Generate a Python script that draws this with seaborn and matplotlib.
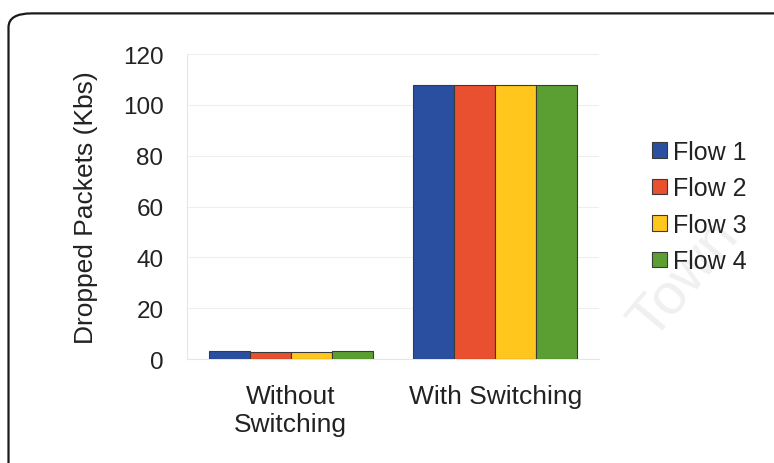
import matplotlib
matplotlib.use("Agg")
import matplotlib.pyplot as plt
from matplotlib.patches import FancyBboxPatch
import pandas as pd
import seaborn as sns

# 데이터
categories = ["Without\nSwitching", "With Switching"]
flows = ["Flow 1", "Flow 2", "Flow 3", "Flow 4"]
flow1 = [3.1, 108.0]
flow2 = [2.8, 108.0]
flow3 = [2.9, 107.8]
flow4 = [3.0, 107.8]
yticks = [0, 20, 40, 60, 80, 100, 120]
colors = ["#2A4FA0", "#E8502F", "#FFC61E", "#5B9E32"]


def main():
    sns.set_style("white")
    plt.rcParams["font.family"] = ["Liberation Sans", "DejaVu Sans"]

    rows = []
    for name, vals in zip(flows, [flow1, flow2, flow3, flow4]):
        for cat, v in zip(categories, vals):
            rows.append({"cat": cat, "flow": name, "value": v})
    df = pd.DataFrame(rows)

    fig = plt.figure(figsize=(7.74, 4.64), dpi=100)
    fig.patch.set_facecolor("white")

    # 둥근 테두리
    border = FancyBboxPatch((0.011, -0.05), 1.1, 1.019,
                            boxstyle="round,pad=0,rounding_size=0.03",
                            transform=fig.transFigure, fill=False,
                            edgecolor="#1a1a1a", linewidth=1.6)
    fig.patches.append(border)

    # 배경 워터마크 (희미하게)
    fig.text(0.885, 0.40, "Town", fontsize=42, color="#f0f0f0",
             rotation=50, ha="center", va="center", zorder=-10)

    ax = fig.add_axes([0.2416, 0.2241, 0.5323, 0.6573])
    ax.set_facecolor("none")
    sns.barplot(data=df, x="cat", y="value", hue="flow", palette=colors,
                order=categories, hue_order=flows, width=0.8, saturation=1,
                edgecolor="#3a3a3a", linewidth=0.8, ax=ax, zorder=3)

    ax.set_ylim(0, 120)
    ax.set_yticks(yticks)
    ax.set_xlim(-0.505, 1.505)
    ax.grid(axis="y", color="#eeeeee", linewidth=0.8, zorder=0)
    for s in ["top", "right"]:
        ax.spines[s].set_visible(False)
    ax.spines["left"].set_color("#e6e6e6")
    ax.spines["bottom"].set_color("#e6e6e6")

    ax.tick_params(axis="y", labelsize=17.5, length=0, pad=17, colors="#222222")
    ax.tick_params(axis="x", labelsize=19, length=0, pad=18, colors="#222222")
    ax.set_xlabel("")
    ax.set_ylabel("Dropped Packets (Kbs)", fontsize=19, color="#222222", labelpad=18)

    leg = ax.legend(loc="center left", bbox_to_anchor=(1.129, 0.50), frameon=False,
                    fontsize=18, handlelength=0.58, handleheight=0.58,
                    handletextpad=0.25, labelspacing=0.5, borderpad=0,
                    borderaxespad=0)
    for t in leg.get_texts():
        t.set_color("#222222")

    plt.savefig("out.png", dpi=100)
    plt.close()


if __name__ == "__main__":
    main()
